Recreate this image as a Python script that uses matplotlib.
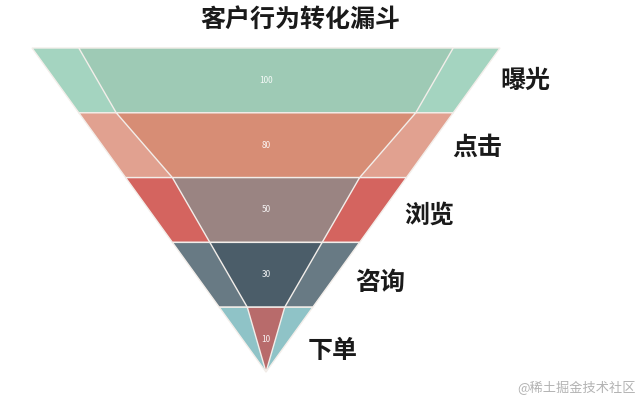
import matplotlib
matplotlib.use("Agg")
import matplotlib.pyplot as plt
from matplotlib.patches import Polygon

plt.rcParams['font.family'] = ['Noto Sans CJK SC', 'DejaVu Sans']

# data
title = '客户行为转化漏斗'
stages = ['曝光', '点击', '浏览', '咨询', '下单']
outer_values = [100, 80, 60, 40, 20]
inner_values = [100, 80, 50, 30, 10]
outer_colors = ['#a4d4c0', '#e1a190', '#d4645f', '#687a84', '#8fc3c7']
inner_colors = ['#9ecab5', '#d78d75', '#9a8482', '#4b5d69', '#b86b6b']
watermark = '@稀土掘金技术社区'

# layout (pixel space)
W, H = 641, 403
cx, top, bottom = 266, 48, 372
full_width = 468
inner_scale = 0.8

fig = plt.figure(figsize=(W / 100, H / 100), dpi=100)
ax = fig.add_axes([0, 0, 1, 1])
ax.set_xlim(0, W)
ax.set_ylim(H, 0)
ax.axis('off')

n = len(stages)
step = (bottom - top) / n


def draw_funnel(values, colors, scale, zorder):
    vmax = max(values)
    for i, v in enumerate(values):
        w_top = v / vmax * full_width * scale
        w_bot = (values[i + 1] / vmax * full_width * scale) if i + 1 < len(values) else 0
        y0, y1 = top + i * step, top + (i + 1) * step
        pts = [(cx - w_top / 2, y0), (cx + w_top / 2, y0),
               (cx + w_bot / 2, y1), (cx - w_bot / 2, y1)]
        ax.add_patch(Polygon(pts, closed=True, facecolor=colors[i],
                             edgecolor='#f3eeea', linewidth=1.0, zorder=zorder))


draw_funnel(outer_values, outer_colors, 1.0, 1)
draw_funnel(inner_values, inner_colors, inner_scale, 2)

# value labels in the middle of each level
for i, v in enumerate(inner_values):
    ymid = top + (i + 0.5) * step
    ax.text(cx, ymid, str(v), color='white', fontsize=6, ha='center',
            va='center', zorder=3, alpha=0.9)

# stage names on the right of the outer funnel
vmax = max(outer_values)
for i, name in enumerate(stages):
    ymid = top + (i + 0.5) * step
    w_top = outer_values[i] / vmax * full_width
    w_bot = (outer_values[i + 1] / vmax * full_width) if i + 1 < n else 0
    xr = cx + (w_top + w_bot) / 4
    ax.text(xr + 24 - i * 1.5, ymid + i * 2.8, name, fontsize=18, fontweight='bold',
            color='#1a1a1a', ha='left', va='center')

ax.text(300, 20, title, fontsize=18, fontweight='bold', color='#1a1a1a',
        ha='center', va='center')
ax.text(636, 388, watermark, fontsize=9.5, color='#b3b3b3',
        ha='right', va='center')

fig.savefig('out.png', dpi=100, facecolor='white')
